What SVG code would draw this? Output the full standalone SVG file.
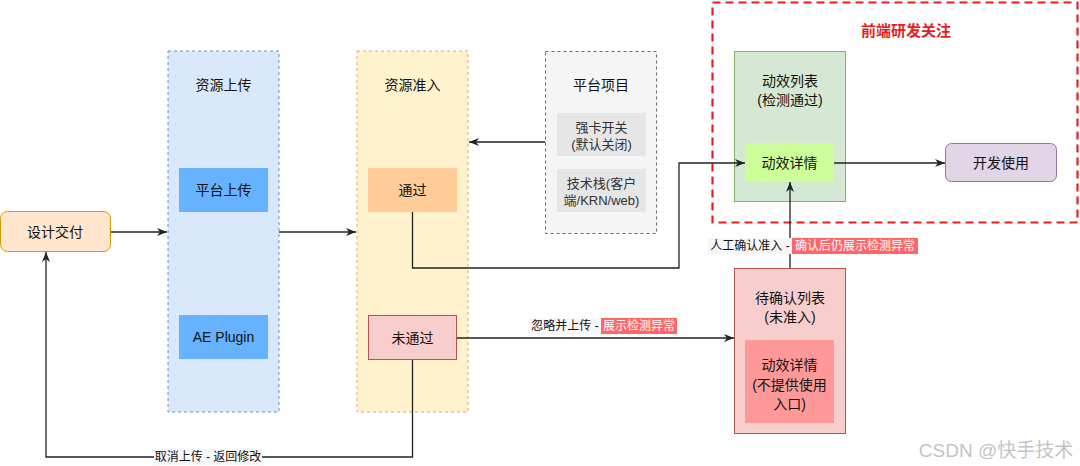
<svg xmlns="http://www.w3.org/2000/svg" width="1080" height="466" viewBox="0 0 1080 466">
<defs>
<style>
text{font-family:"Liberation Sans","Noto Sans CJK SC",sans-serif;fill:#111;text-anchor:middle;dominant-baseline:central}
.t14{font-size:14px}
.t13{font-size:13px}
.lbl{font-size:12px}
.conn{fill:none;stroke:#222;stroke-width:1.3}
.wht{fill:#fff}
</style>
<marker id="arr" markerUnits="userSpaceOnUse" markerWidth="12" markerHeight="10" refX="11" refY="5" orient="auto">
<path d="M1,1 L11,5 L1,9 L4,5 Z" fill="#222"/>
</marker>
</defs>
<rect width="1080" height="466" fill="#fff"/>

<g id="focus-area">
<rect x="712.5" y="2.5" width="365" height="220" fill="none" stroke="#e61e1e" stroke-width="2.2" stroke-dasharray="8,5"/>
<text x="906" y="30" style="font-size:15px;font-weight:bold;fill:#e61e1e">前端研发关注</text>
</g>

<g id="design">
<rect x="0.5" y="211.5" width="110" height="40" rx="7" fill="#ffe6cc" stroke="#d79b00"/>
<text class="t14" x="55" y="232">设计交付</text>
</g>

<g id="upload">
<rect x="168" y="51" width="111" height="361" fill="#dae8fc" stroke="#6c8ebf" stroke-dasharray="3,3"/>
<text class="t14" x="223.5" y="85">资源上传</text>
</g>
<g id="platform-upload">
<rect x="179" y="168" width="89" height="44" fill="#66b2ff"/>
<text class="t14" x="223.5" y="190">平台上传</text>
</g>
<g id="ae-plugin">
<rect x="179" y="315" width="89" height="44" fill="#66b2ff"/>
<text class="t14" x="223.5" y="337">AE Plugin</text>
</g>

<g id="admission">
<rect x="357" y="51" width="111" height="361" fill="#fff2cc" stroke="#d6b656" stroke-dasharray="3,3"/>
<text class="t14" x="412.5" y="85">资源准入</text>
</g>
<g id="pass">
<rect x="368" y="168" width="89" height="44" fill="#ffcc99"/>
<text class="t14" x="412.5" y="190">通过</text>
</g>
<g id="fail">
<rect x="368.5" y="315.5" width="88" height="44" fill="#f8cecc" stroke="#b85450"/>
<text class="t14" x="412.5" y="338">未通过</text>
</g>

<g id="project">
<rect x="545.5" y="51.5" width="111" height="182" fill="#f5f5f5" stroke="#666" stroke-dasharray="3,3"/>
<text class="t14" x="601" y="85">平台项目</text>
</g>
<g id="switch">
<rect x="557" y="113" width="89" height="43" fill="#e6e6e6"/>
<text class="t13" x="601.5" y="127" style="fill:#333">强卡开关</text>
<text class="t13" x="601.5" y="144" style="fill:#333">(默认关闭)</text>
</g>
<g id="stack">
<rect x="557" y="169" width="89" height="43" fill="#e6e6e6"/>
<text class="t13" x="601.5" y="183" style="fill:#333">技术栈(客户</text>
<text class="t13" x="601.5" y="200" style="fill:#333">端/KRN/web)</text>
</g>

<g id="anim-list">
<rect x="734.5" y="51.5" width="111" height="150" fill="#d5e8d4" stroke="#82b366"/>
<text class="t14" x="790" y="81">动效列表</text>
<text class="t14" x="790" y="100">(检测通过)</text>
</g>
<g id="anim-detail">
<rect x="745" y="143" width="89" height="39" fill="#ccff99"/>
<text class="t14" x="789.5" y="163">动效详情</text>
</g>

<g id="dev-use">
<rect x="945.5" y="143.5" width="111" height="38" rx="6" fill="#e1d5e7" stroke="#9673a6"/>
<text class="t14" x="1001" y="163">开发使用</text>
</g>

<g id="pending-list">
<rect x="734.5" y="268.5" width="111" height="165" fill="#f8cecc" stroke="#b85450"/>
<text class="t14" x="790" y="298">待确认列表</text>
<text class="t14" x="790" y="317">(未准入)</text>
</g>
<g id="pending-detail">
<rect x="745" y="340" width="89" height="83" fill="#ff9999"/>
<text class="t14" x="789.5" y="365">动效详情</text>
<text class="t14" x="789.5" y="385">(不提供使用</text>
<text class="t14" x="789.5" y="404">入口)</text>
</g>

<g id="connectors">
<path class="conn" d="M111,232 H167" marker-end="url(#arr)"/>
<path class="conn" d="M279,232 H356" marker-end="url(#arr)"/>
<path class="conn" d="M545,142 H469" marker-end="url(#arr)"/>
<path class="conn" d="M412.5,212 V268 H679 V163 H745" marker-end="url(#arr)"/>
<path class="conn" d="M834,163 H945" marker-end="url(#arr)"/>
<path class="conn" d="M790,268 V182" marker-end="url(#arr)"/>
<path class="conn" d="M457,338 H734" marker-end="url(#arr)"/>
<path class="conn" d="M412.5,360 V457 H46 V252" marker-end="url(#arr)"/>

<rect x="708" y="238" width="84" height="16" fill="#f7f7f7"/>
<text class="lbl" x="750" y="246">人工确认准入 -</text>
<rect x="792" y="238" width="126" height="16" fill="#ff6666"/>
<text class="lbl wht" x="855" y="246" style="fill:#fff">确认后仍展示检测异常</text>

<rect x="529" y="318" width="72" height="16" fill="#f7f7f7"/>
<text class="lbl" x="565" y="326">忽略并上传 -</text>
<rect x="601" y="318" width="76" height="16" fill="#ff6666"/>
<text class="lbl" x="639" y="326" style="fill:#fff">展示检测异常</text>

<rect x="154" y="449" width="108" height="16" fill="#f7f7f7"/>
<text class="lbl" x="208" y="457">取消上传 - 返回修改</text>
</g>

<text x="996" y="450" style="font-size:19px;fill:#c4c4c4">CSDN @快手技术</text>
</svg>
